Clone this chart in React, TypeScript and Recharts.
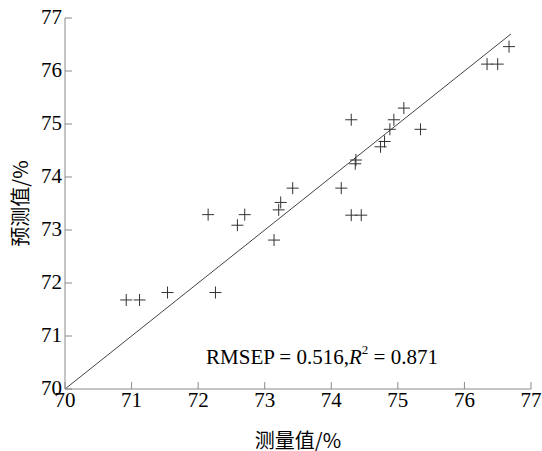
import React from 'react';
import {
  ScatterChart,
  Scatter,
  XAxis,
  YAxis,
  ReferenceLine,
  ReferenceDot,
  Label,
} from 'recharts';

const measured = [
  70.92, 71.12, 71.54, 72.26, 72.15, 72.7, 72.59, 73.14, 73.21, 73.24, 73.42, 74.15, 74.3,
  74.37, 74.36, 74.74, 74.8, 74.88, 74.94, 75.09, 75.34, 76.34, 76.5, 76.67, 74.3, 74.45,
];
const predicted = [
  71.68, 71.68, 71.82, 71.82, 73.29, 73.29, 73.09, 72.81, 73.38, 73.52, 73.79, 73.79, 75.08,
  74.32, 74.25, 74.57, 74.67, 74.9, 75.08, 75.3, 74.9, 76.13, 76.13, 76.46, 73.28, 73.28,
];
const ticks = [70, 71, 72, 73, 74, 75, 76, 77];
const fitLine = [70, 76.7];
const statsText = { rmsep: '0.516', r2: '0.871' };

const points = measured.map((x, i) => ({ x, y: predicted[i] }));

const serif = '"Liberation Serif", "Times New Roman", serif';
const cjk = '"Noto Sans CJK SC", sans-serif';
const axisGray = '#8a8a8a';

const Cross = (props: any) => {
  const { cx, cy } = props;
  const s = 6;
  return (
    <g stroke="#333" strokeWidth={1}>
      <line x1={cx - s} y1={cy} x2={cx + s} y2={cy} />
      <line x1={cx} y1={cy - s} x2={cx} y2={cy + s} />
    </g>
  );
};

const renderXTick = (props: any) => {
  const { x, y, payload } = props;
  return (
    <text key={`xt-${payload.value}`} x={x} y={y} dy={16} textAnchor="middle" fill="#000" fontFamily={serif} fontSize={21}>
      {payload.value}
    </text>
  );
};

const renderYTick = (props: any) => {
  const { x, y, payload } = props;
  return (
    <text key={`yt-${payload.value}`} x={x} y={y} dy={6} textAnchor="end" fill="#000" fontFamily={serif} fontSize={21}>
      {payload.value}
    </text>
  );
};

const StatsLabel = (props: any) => {
  const { viewBox } = props;
  const x = viewBox.cx ?? viewBox.x;
  const y = viewBox.cy ?? viewBox.y;
  return (
    <text x={x} y={y} textAnchor="middle" dominantBaseline="central" fill="#000" fontFamily={serif} fontSize={21}>
      <tspan>{`RMSEP = ${statsText.rmsep},`}</tspan>
      <tspan fontStyle="italic">R</tspan>
      <tspan fontSize={13} dy={-8}>2</tspan>
      <tspan dy={8}>{` = ${statsText.r2}`}</tspan>
    </text>
  );
};

const YTitle = (props: any) => {
  const { viewBox } = props;
  const x = viewBox.x + 19;
  const y = viewBox.y + viewBox.height / 2;
  return (
    <text
      x={x}
      y={y}
      transform={`rotate(-90, ${x}, ${y})`}
      textAnchor="middle"
      dominantBaseline="central"
      fill="#000"
      fontFamily={cjk}
      fontSize={20}
    >
      预测值/%
    </text>
  );
};

const XTitle = (props: any) => {
  const { viewBox } = props;
  const x = viewBox.x + viewBox.width / 2;
  const y = viewBox.y + 50;
  return (
    <text x={x} y={y} textAnchor="middle" dominantBaseline="central" fill="#000" fontFamily={cjk} fontSize={20}>
      测量值/%
    </text>
  );
};

export default function App() {
  return (
    <div style={{ position: 'absolute', left: 0, top: 0, background: '#fff' }}>
      <ScatterChart width={542} height={451} margin={{ top: 18, right: 11, bottom: 0, left: 0 }}>
        <XAxis
          type="number"
          dataKey="x"
          domain={[70, 77]}
          ticks={ticks}
          height={62}
          stroke={axisGray}
          tickSize={-7}
          tickMargin={9}
          tick={renderXTick}
          fontFamily={serif}
          fontSize={21}
          interval={0}
        >
          <Label content={<XTitle />} />
        </XAxis>
        <YAxis
          type="number"
          dataKey="y"
          domain={[70, 77]}
          ticks={ticks}
          width={65}
          stroke={axisGray}
          tickSize={-7}
          tickMargin={10}
          tick={renderYTick}
          fontFamily={serif}
          fontSize={21}
          interval={0}
        >
          <Label content={<YTitle />} />
        </YAxis>
        <ReferenceLine
          segment={[
            { x: fitLine[0], y: fitLine[0] },
            { x: fitLine[1], y: fitLine[1] },
          ]}
          stroke="#444"
          strokeWidth={1}
        />
        <ReferenceDot x={73.86} y={70.6} r={0} stroke="none" fill="none">
          <Label content={<StatsLabel />} />
        </ReferenceDot>
        <Scatter data={points} shape={<Cross />} isAnimationActive={false} />
      </ScatterChart>
    </div>
  );
}
